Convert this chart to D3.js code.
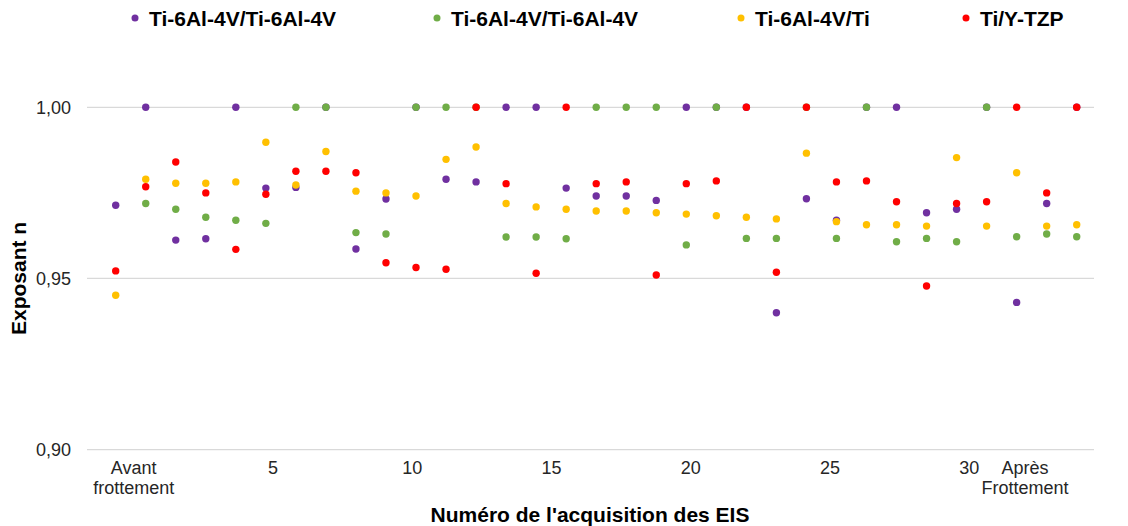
<!DOCTYPE html>
<html>
<head>
<meta charset="utf-8">
<script src="https://cdn.jsdelivr.net/npm/d3@7"></script>
<style>
  html, body { margin: 0; padding: 0; background: #fff; }
  svg { display: block; font-family: "Liberation Sans", Arial, sans-serif; }
</style>
</head>
<body>
<svg id="chart" width="1128" height="526"></svg>
<script>
// ---- data ----
const acquisitions = d3.range(1, 34); // 33 acquisitions
const seriesNames = ["Ti-6Al-4V/Ti-6Al-4V", "Ti-6Al-4V/Ti-6Al-4V", "Ti-6Al-4V/Ti", "Ti/Y-TZP"];
const seriesColors = ["#7030A0", "#70AD47", "#FFC000", "#FF0000"];

const purpleValues = [0.9714, 1.000, 0.9612, 0.9616, 1.000, 0.9764, 0.9766, 1.000, 0.9586, 0.9732, 1.000,
  0.979, 0.9782, 1.000, 1.000, 0.9764, 0.9741, 0.9741, 0.9728, 1.000, 1.000, 1.000, 0.940, 0.9733,
  0.967, 1.000, 1.000, 0.9692, 0.9702, 1.000, 0.943, 0.9719, 1.000];
const greenValues = [null, 0.9719, 0.9702, 0.9679, 0.967, 0.9661, 1.000, 1.000, 0.9634, 0.963, 1.000,
  1.000, 1.000, 0.9621, 0.9621, 0.9616, 1.000, 1.000, 1.000, 0.9598, 1.000, 0.9617, 0.9617, 1.000,
  0.9617, 1.000, 0.9607, 0.9617, 0.9607, 1.000, 0.9622, 0.963, 0.9622];
const yellowValues = [0.9451, 0.979, 0.9778, 0.9778, 0.9782, 0.9898, 0.9773, 0.9871, 0.9755, 0.975, 0.9741,
  0.9848, 0.9884, 0.9719, 0.9709, 0.9702, 0.9697, 0.9697, 0.9692, 0.9688, 0.9683, 0.9679, 0.9674, 0.9866,
  0.9666, 0.9657, 0.9657, 0.9653, 0.9853, 0.9653, 0.9809, 0.9653, 0.9657];
const redValues = [0.9522, 0.9768, 0.984, 0.975, 0.9585, 0.9746, 0.9813, 0.9813, 0.9809, 0.9546, 0.9532,
  0.9527, 1.000, 0.9777, 0.9515, 1.000, 0.9777, 0.9782, 0.951, 0.9777, 0.9785, 1.000, 0.9518, 1.000,
  0.9782, 0.9785, 0.9724, 0.9478, 0.9719, 0.9724, 1.000, 0.975, 1.000];

const yTickValues = [0.90, 0.95, 1.00];
const xTickIndex = [0, 5, 10, 15, 20, 25, 30, 32];
const xTickLabels = [["Avant", "frottement"], ["5"], ["10"], ["15"], ["20"], ["25"], ["30"], ["Après", "Frottement"]];
const xTitle = "Numéro de l'acquisition des EIS";
const yTitle = "Exposant n";

const allSeries = [purpleValues, greenValues, yellowValues, redValues];

// ---- layout ----
const svg = d3.select("#chart");
const plot = { left: 87, right: 1094, top: 107.3, bottom: 449.6 };

const y = d3.scaleLinear().domain([0.90, 1.00]).range([plot.bottom, plot.top]);
const xPoints = d3.scalePoint().domain(acquisitions).range([115.7, 1076.7]);
const xLabels = d3.scaleLinear().domain([0, 32]).range([133.7, 1025]);

const fmt = v => d3.format(".2f")(v).replace(".", ",");

// gridlines
svg.append("g").selectAll("line").data(yTickValues).join("line")
  .attr("x1", plot.left).attr("x2", plot.right)
  .attr("y1", d => y(d)).attr("y2", d => y(d))
  .attr("stroke", "#d9d9d9").attr("stroke-width", 1.3);

// y axis labels
const yAxis = d3.axisLeft(y).tickValues(yTickValues).tickFormat(fmt).tickSize(0).tickPadding(0);
const yg = svg.append("g").attr("transform", `translate(71,0)`).call(yAxis);
yg.select(".domain").remove();
yg.selectAll("text").attr("font-size", 18).attr("fill", "#262626")
  .attr("font-family", "Liberation Sans, Arial, sans-serif");

// x tick labels
const xg = svg.append("g");
xTickIndex.forEach((k, i) => {
  const t = xg.append("text").attr("text-anchor", "middle").attr("font-size", 18).attr("fill", "#262626");
  xTickLabels[i].forEach((line, j) => {
    t.append("tspan").attr("x", xLabels(k)).attr("y", 473.5 + j * 20).text(line);
  });
});

// points
allSeries.forEach((vals, si) => {
  svg.append("g").selectAll("circle")
    .data(vals.map((v, i) => ({ x: acquisitions[i], v })).filter(d => d.v !== null))
    .join("circle")
    .attr("cx", d => xPoints(d.x))
    .attr("cy", d => y(d.v))
    .attr("r", 3.7)
    .attr("fill", seriesColors[si]);
});

// axis titles
svg.append("text").attr("x", 590).attr("y", 522).attr("text-anchor", "middle")
  .attr("font-size", 21).attr("font-weight", "bold").attr("fill", "#000").text(xTitle);
svg.append("text").attr("transform", `translate(26,${(plot.top + plot.bottom) / 2}) rotate(-90)`)
  .attr("text-anchor", "middle").attr("font-size", 21).attr("font-weight", "bold").attr("fill", "#000").text(yTitle);

// legend
const legendX = [135, 437, 741, 966];
const lg = svg.append("g");
seriesNames.forEach((name, i) => {
  lg.append("circle").attr("cx", legendX[i]).attr("cy", 18).attr("r", 3.5).attr("fill", seriesColors[i]);
  lg.append("text").attr("x", legendX[i] + 14).attr("y", 25.5).attr("font-size", 21)
    .attr("font-weight", "bold").attr("fill", "#000").text(name);
});
</script>
</body>
</html>
